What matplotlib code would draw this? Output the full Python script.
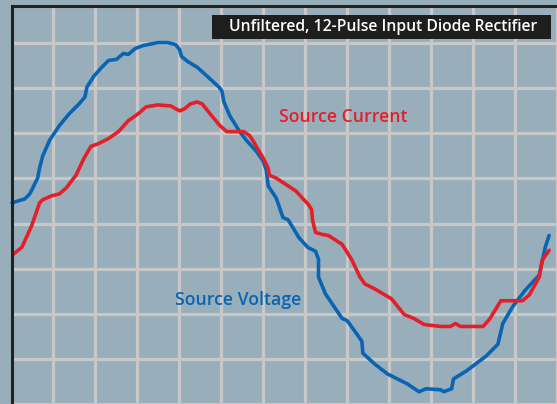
import numpy as np
import matplotlib
matplotlib.use("Agg")
import matplotlib.pyplot as plt
from matplotlib.patches import Rectangle

# time (arbitrary units) and amplitude
volt_t = [0, 13, 18, 21, 26, 28, 31, 38, 48, 58, 68, 74, 76, 83, 91, 98, 106, 113, 118,
          125, 133, 148, 158, 166, 170, 172, 178, 188, 198, 210, 213, 215, 221, 231, 238,
          248, 255, 258, 260, 268, 275, 280, 285, 291, 300, 308, 311, 311, 318, 335, 340,
          348, 355, 356, 368, 381, 401, 413, 420, 435, 438, 446, 448, 461, 481, 493, 498,
          508, 521, 535, 541, 545]
volt_v = [21, 25, 30, 36, 46, 56, 68, 84, 99, 111, 121, 128, 138, 149, 158, 165, 166, 172, 171,
          177, 180, 183, 183, 181, 176, 169, 164, 158, 149, 138, 134, 123, 109, 93, 84,
          73, 63, 54, 38, 26, 6, 4, -4, -14, -24, -28, -36, -54, -71, -96, -98,
          -109, -119, -131, -142, -152, -162, -170, -167, -168, -170, -167, -157, -149, -134, -122, -101,
          -84, -67, -52, -24, -12]

curr_t = [0, 10, 20, 28, 31, 40, 48, 55, 65, 73, 80, 88, 98, 108, 118, 128, 136, 148, 161,
          170, 175, 181, 188, 193, 201, 211, 218, 235, 241, 245, 255, 260, 261, 268, 288,
          301, 304, 305, 308, 315, 321, 335, 345, 353, 358, 368, 385, 398, 408, 418, 435,
          445, 450, 455, 478, 485, 496, 518, 525, 535, 538, 545]
curr_v = [-32, -24, -2, 21, 24, 28, 30, 36, 49, 66, 78, 81, 86, 93, 104, 111, 118, 120, 119,
          114, 116, 121, 123, 121, 111, 99, 93, 93, 89, 83, 66, 56, 49, 46, 33,
          19, 14, 3, -9, -11, -12, -21, -37, -54, -61, -66, -76, -92, -96, -102, -104,
          -104, -101, -104, -104, -96, -78, -78, -72, -54, -37, -27]

title = "Unfiltered, 12-Pulse Input Diode Rectifier"

bg = "#98afbb"
W, H = 557, 404
fig = plt.figure(figsize=(W / 100, H / 100), dpi=100, facecolor=bg)
ax = fig.add_axes([12 / W, 0, 1 - 12 / W, 398 / H], facecolor=bg)

ax.set_xlim(0, 545)
ax.set_ylim(-178, 220)
ax.set_xticks(41.3 + 42.64 * np.arange(13))
ax.set_yticks(-182.4 + 45.6 * np.arange(9))
ax.grid(True, color="#c8c8c8", lw=2.3)
ax.set_axisbelow(True)
ax.tick_params(length=0, labelbottom=False, labelleft=False)
for s in ["right", "bottom"]:
    ax.spines[s].set_visible(False)
for s in ["left", "top"]:
    ax.spines[s].set_color("#222222")
    ax.spines[s].set_linewidth(2.2)

ax.plot(volt_t, volt_v, color="#0a64b4", lw=2.6, solid_capstyle="round", clip_on=False)
ax.plot(curr_t, curr_v, color="#e3202a", lw=2.6, solid_capstyle="round")

ax.text(271, 108, "Source Current", color="#e3202a", fontsize=12.7, weight="semibold",
        family="Open Sans", ha="left", va="center")
ax.text(165, -77, "Source Voltage", color="#0a64b4", fontsize=12.7, weight="semibold",
        family="Open Sans", ha="left", va="center")

fig.patches.append(Rectangle((212 / W, 1 - 39 / H), 339 / W, 24 / H,
                             transform=fig.transFigure, facecolor="#1e1e1e",
                             edgecolor="none", zorder=5))
fig.text(383 / W, 1 - 27 / H, title, color="white", fontsize=11.3, weight="semibold",
         family="Open Sans", ha="center", va="center", zorder=6)

fig.savefig("out.png", dpi=100, facecolor=bg)
